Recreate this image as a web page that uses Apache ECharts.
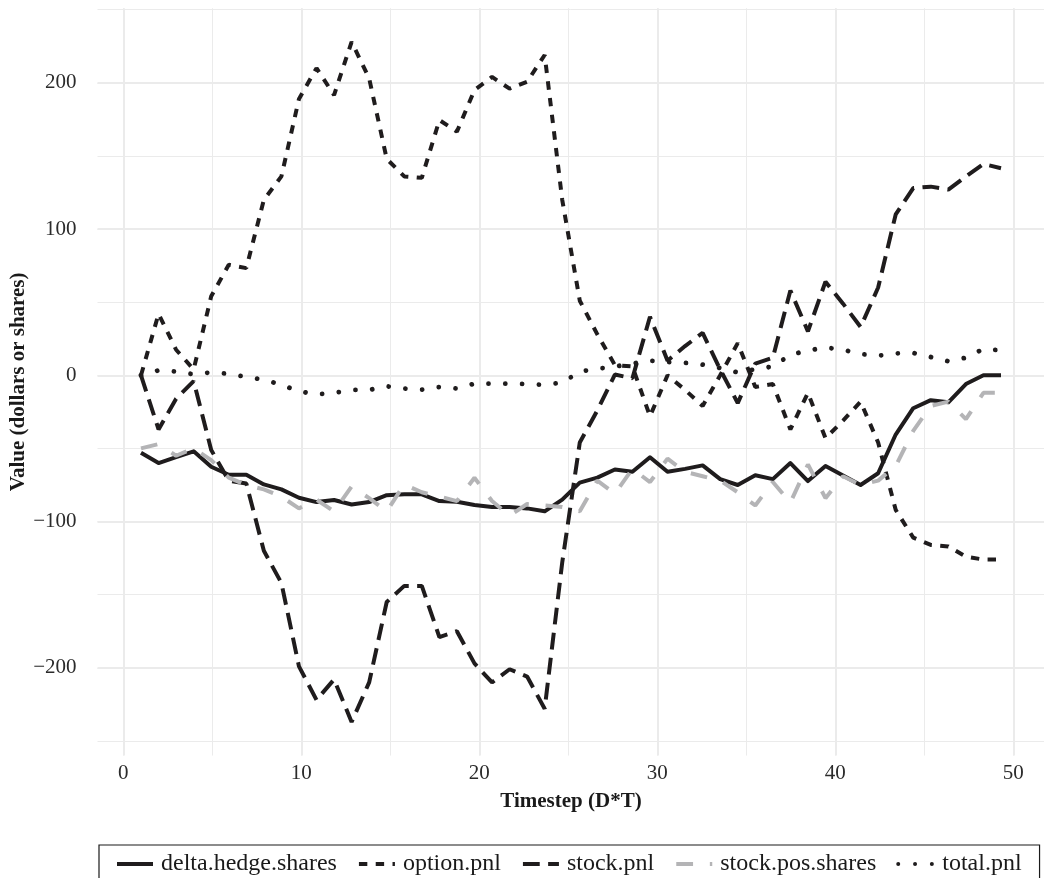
<!DOCTYPE html>
<html><head><meta charset="utf-8">
<script src="https://cdn.jsdelivr.net/npm/echarts@6/dist/echarts.min.js"></script>
<style>html,body{margin:0;padding:0;background:#fff}#c{width:1044px;height:878px}</style>
</head><body><div id="c"></div>
<script>
// ---- data ----
const timestep = [1,2,3,4,5,6,7,8,9,10,11,12,13,14,15,16,17,18,19,20,21,22,23,24,25,26,27,28,29,30,31,32,33,34,35,36,37,38,39,40,41,42,43,44,45,46,47,48,49,50];
const deltaHedgeShares = [-53,-60,-56,-52,-62.5,-68,-68,-74.6,-78,-83.7,-86.7,-85.3,-88.3,-86.7,-82,-81.4,-81.4,-86,-86.5,-88.7,-90,-90,-91,-93,-85,-73.4,-70,-64.4,-66,-56,-66,-64,-61.6,-71,-75,-68.3,-71,-60,-72.3,-62,-68.5,-75,-67,-40.5,-22.5,-17,-18.5,-6,0,0];
const optionPnl = [0,42,17.5,4,54,75.6,73.3,120,136,189,210,191.6,228,203,148,136,135,174.5,166.6,195,204,196,200.7,219,120,51,28,7,6,-28,0,-10,-21,0,22,-8,-6,-37,-12,-43,-31,-18,-46,-92,-111,-116,-117,-124,-126,-126];
const stockPnl = [0,-37,-16,-4,-51,-72,-74,-120,-142,-199,-222,-208,-237,-210,-155,-144,-144,-179,-175,-197,-210,-201,-206,-228,-128,-46,-24,0.5,-2,40,10,20,29,4,-19,8,12,58,30,64,49,33,60,110,128,129,127,136,144.5,141.6];
const stockPosShares = [-50,-47,-55,-50,-58,-70,-75,-78,-83,-91,-85,-93,-76,-84,-93,-74.6,-80,-83,-86,-70,-86,-96,-88,-89,-90,-93,-72,-81,-64,-73,-57,-66,-69,-72,-80,-89,-73,-87,-61,-84,-69,-75,-72,-62,-38,-21,-18,-30,-12,-12];
const totalPnl = [0,3.4,2.6,0.7,2,1,-1,-3,-6.5,-11,-13,-12,-10,-10,-7.5,-9,-9.8,-8,-9,-5.7,-5.7,-5.7,-6,-6.5,-5,2.5,4.4,6,8,10,9,8.5,7.3,5,2,4,6,14,17,19,17.5,14.5,13.4,15,15.3,12.5,9.6,12,18,17];
const seriesNames = ['delta.hedge.shares','option.pnl','stock.pnl','stock.pos.shares','total.pnl'];
const xTickLabels = [0,10,20,30,40,50];
const yTickLabels = [-200,-100,0,100,200];

// ---- styling ----
const FONT = 'Liberation Serif';
const BLACK = '#1f1c1d';
const GRAY = '#b4b4b6';
const GRID = '#ebebeb';
const U = 4.2; // dash unit
const LW = 4;

// panel geometry (ggplot panel extends past data by 5%)
const X0 = 123.3, XPU = 17.8;   // pixel of x=0, px per unit
const Y0 = 375.3, YPU = 1.4625; // pixel of y=0, px per unit
const xMin = -1.45, xMax = 52.45, yMin = -260, yMax = 251;
const px = v => X0 + v * XPU;
const py = v => Y0 - v * YPU;

const pairs = arr => timestep.map((t, i) => [t, arr[i]]);

const chart = echarts.init(document.getElementById('c'), null, {renderer: 'canvas'});
const hid = {show: false};
chart.setOption({
  animation: false,
  backgroundColor: '#ffffff',
  grid: [
    {left: px(xMin), top: py(yMax), width: (xMax - xMin) * XPU, height: (yMax - yMin) * YPU, containLabel: false},
    {left: px(0), top: py(yMax), width: 50 * XPU, height: (yMax - yMin) * YPU, containLabel: false},
    {left: px(xMin), top: py(250), width: (xMax - xMin) * XPU, height: 500 * YPU, containLabel: false}
  ],
  xAxis: [
    {gridIndex: 0, type: 'value', min: xMin, max: xMax, axisLine: hid, axisTick: hid, axisLabel: hid, splitLine: hid,
     name: 'Timestep (D*T)', nameLocation: 'middle', nameGap: 36,
     nameTextStyle: {fontFamily: FONT, fontWeight: 'bold', fontSize: 21, color: '#1a1a1a'}},
    {gridIndex: 1, type: 'value', position: 'top', min: 0, max: 50, interval: 5, axisLine: hid, axisTick: hid, axisLabel: hid,
     splitLine: {show: true, lineStyle: {color: GRID, width: 1}}},
    {gridIndex: 1, type: 'value', position: 'bottom', min: 0, max: 50, interval: 5, axisLine: hid, axisTick: hid,
     axisLabel: {show: true, margin: 7, fontFamily: FONT, fontSize: 21, color: '#2b2b2b',
       formatter: v => xTickLabels.includes(v) ? String(v) : ''},
     splitLine: {show: true, lineStyle: {color: [GRID, 'rgba(0,0,0,0)'], width: 2}}},
    {gridIndex: 2, type: 'value', min: 0, max: 1, show: false}
  ],
  yAxis: [
    {gridIndex: 0, type: 'value', min: yMin, max: yMax, axisLine: hid, axisTick: hid, axisLabel: hid, splitLine: hid,
     name: 'Value (dollars or shares)', nameLocation: 'middle', nameGap: 69, nameRotate: 90,
     nameTextStyle: {fontFamily: FONT, fontWeight: 'bold', fontSize: 21, color: '#1a1a1a'}},
    {gridIndex: 1, type: 'value', min: yMin, max: yMax, show: false},
    {gridIndex: 2, type: 'value', position: 'right', min: -250, max: 250, interval: 50, axisLine: hid, axisTick: hid, axisLabel: hid,
     splitLine: {show: true, lineStyle: {color: GRID, width: 1}}},
    {gridIndex: 2, type: 'value', position: 'left', min: -250, max: 250, interval: 50, axisLine: hid, axisTick: hid,
     axisLabel: {show: true, margin: 21, fontFamily: FONT, fontSize: 21, color: '#2b2b2b',
       formatter: v => yTickLabels.includes(v) ? String(v).replace('-', '\u2212') : ''},
     splitLine: {show: true, lineStyle: {color: ['rgba(0,0,0,0)', GRID], width: 2}}}
  ],
  legend: {
    data: seriesNames,
    left: 99, top: 845, width: 909,
    orient: 'horizontal',
    borderColor: '#1a1a1a', borderWidth: 1.2, borderRadius: 0,
    padding: [7, 18, 7, 16],
    itemGap: 20, itemWidth: 36, itemHeight: 16,
    textStyle: {fontFamily: FONT, fontSize: 24, color: '#1a1a1a', padding: [0, 0, 0, 3]},
    lineStyle: {width: LW},
    itemStyle: {opacity: 0},
    selectedMode: false
  },
  series: [
    {name: seriesNames[0], type: 'line', data: pairs(deltaHedgeShares), symbol: 'none', silent: true,
     lineStyle: {color: BLACK, width: LW, type: 'solid', join: 'round'}, itemStyle: {color: BLACK}},
    {name: seriesNames[1], type: 'line', data: pairs(optionPnl), symbol: 'none', silent: true,
     lineStyle: {color: BLACK, width: LW, type: [2 * U, 2 * U]}, itemStyle: {color: BLACK}},
    {name: seriesNames[2], type: 'line', data: pairs(stockPnl), symbol: 'none', silent: true,
     lineStyle: {color: BLACK, width: LW, type: [4 * U, 2 * U]}, itemStyle: {color: BLACK}},
    {name: seriesNames[3], type: 'line', data: pairs(stockPosShares), symbol: 'none', silent: true,
     lineStyle: {color: GRAY, width: LW, type: [4 * U, 4 * U]}, itemStyle: {color: GRAY}},
    {name: seriesNames[4], type: 'line', data: pairs(totalPnl), symbol: 'none', silent: true,
     lineStyle: {color: BLACK, width: 4.8, type: [0.01, 4 * U], cap: 'round'}, itemStyle: {color: BLACK}}
  ]
});
</script></body></html>
